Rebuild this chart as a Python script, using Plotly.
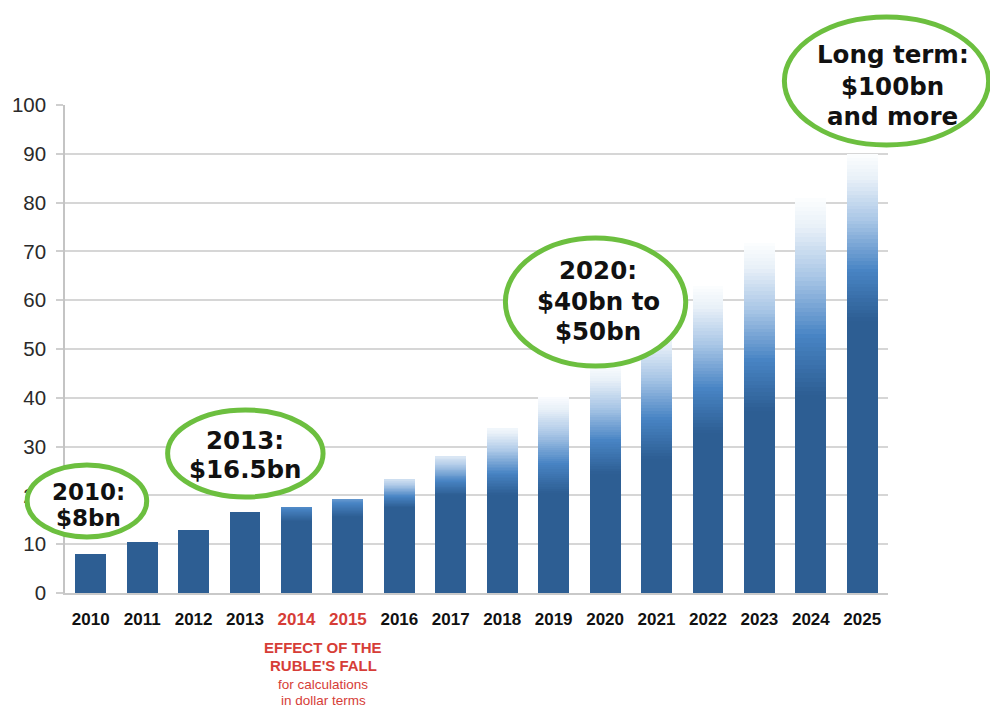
import plotly.graph_objects as go

# ---- data ----
years = ["2010", "2011", "2012", "2013", "2014", "2015", "2016", "2017",
         "2018", "2019", "2020", "2021", "2022", "2023", "2024", "2025"]
values = [7.9, 10.4, 12.9, 16.5, 17.6, 19.2, 23.2, 28.0, 33.8, 40.2,
          47.0, 55.0, 63.0, 71.8, 81.0, 90.0]
red_years = ["2014", "2015"]
y_ticks = [0, 10, 20, 30, 40, 50, 60, 70, 80, 90, 100]

callouts = [
    ["2010:", "$8bn"],
    ["2013:", "$16.5bn"],
    ["2020:", "$40bn to", "$50bn"],
    ["Long term:", "$100bn", "and more"],
]
note_lines = ["EFFECT OF THE", "RUBLE'S FALL", "for calculations", "in dollar terms"]

# ---- style (gradient look of the forecast bars) ----
solid_frac = [1, 1, 1, 1, 0.84, 0.82, 0.76, 0.72, 0.6, 0.51, 0.52, 0.5, 0.52, 0.52, 0.5, 0.62]
top_light = [0, 0, 0, 0, 0.33, 0.38, 0.75, 0.8, 0.92, 0.98, 1, 1, 1, 1, 1, 1]
N_SLICES = 45

stops = [(0.0, (45, 94, 147)), (0.3, (72, 132, 196)), (0.6, (169, 198, 230)),
         (0.85, (232, 240, 248)), (1.0, (253, 254, 255))]


def col(t):
    t = max(0.0, min(1.0, t))
    for (a, ca), (b, cb) in zip(stops[:-1], stops[1:]):
        if t <= b:
            u = (t - a) / (b - a) if b > a else 0
            c = [round(ca[k] + (cb[k] - ca[k]) * u) for k in range(3)]
            return "rgb(%d,%d,%d)" % tuple(c)
    return "rgb(253,254,255)"


DARK = col(0)
RED = "#d63d37"
GREEN = "#6cbf3f"

fig = go.Figure()
fig.add_trace(go.Bar(x=years, y=[v * s for v, s in zip(values, solid_frac)],
                     marker=dict(color=DARK, line=dict(width=0)), hoverinfo="skip"))
for k in range(N_SLICES):
    t = (k + 0.5) / N_SLICES
    fig.add_trace(go.Bar(
        x=years,
        y=[v * (1 - s) / N_SLICES for v, s in zip(values, solid_frac)],
        marker=dict(color=[col(t * L) for L in top_light], line=dict(width=0)),
        hoverinfo="skip"))

ticktext = [("<span style='color:%s'>%s</span>" % (RED, y)) if y in red_years else y for y in years]

# ---- layout geometry ----
L, R, T, B = 62, 102, 105, 114
W, H = 990, 707
PW, PH = W - L - R, H - T - B


def fx(px):
    return (px - L) / PW


def fy(py):
    return (H - B - py) / PH


ellipses = [(24, 144, 465, 537), (165, 321, 410, 497), (504, 685, 238, 366), (784, 989, 17, 145)]
for x0, x1, y0, y1 in ellipses:
    fig.add_shape(type="circle", xref="paper", yref="paper",
                  x0=fx(x0), x1=fx(x1), y0=fy(y1), y1=fy(y0),
                  line=dict(color=GREEN, width=5), fillcolor="white", layer="above")

callout_pos = [
    (86, [492, 518], 23),
    (243, [440, 469], 24.5),
    (597, [270, 301, 331], 24.5),
    (893, [55, 86, 116], 24.5),
]
for lines, (cx, ys, fs) in zip(callouts, callout_pos):
    for txt, py in zip(lines, ys):
        fig.add_annotation(xref="paper", yref="paper", x=fx(cx), y=fy(py),
                           text="<b>%s</b>" % txt, showarrow=False,
                           xanchor="center", yanchor="middle",
                           font=dict(family="DejaVu Sans", size=fs, color="#111111"))

note_pos = [(647, 15, True), (665, 15, True), (685, 13.5, False), (700, 13.5, False)]
for txt, (py, fs, bold) in zip(note_lines, note_pos):
    fig.add_annotation(xref="paper", yref="paper", x=fx(321), y=fy(py),
                       text=("<b>%s</b>" % txt) if bold else txt, showarrow=False,
                       xanchor="center", yanchor="middle", borderpad=0,
                       font=dict(family="Liberation Sans", size=fs, color=RED))

fig.update_layout(
    width=W, height=H, autosize=False,
    margin=dict(l=L, r=R, t=T, b=B, pad=0),
    paper_bgcolor="white", plot_bgcolor="white",
    barmode="stack", bargap=0.4, showlegend=False,
    xaxis=dict(type="category", range=[-0.5, 15.5], tickvals=years, ticktext=ticktext,
               showgrid=False, showline=True, linecolor="#c9c9c9", linewidth=1.5,
               ticks="", ticklabelstandoff=10,
               tickfont=dict(family="Liberation Sans", size=17, color="#111111", weight="bold")),
    yaxis=dict(range=[0, 100], tickvals=y_ticks, showgrid=True, gridcolor="#d6d6d6", gridwidth=1.5,
               zeroline=False, showline=True, linecolor="#c4c4c4", linewidth=1.5,
               ticks="outside", ticklen=7, tickcolor="#cfcfcf", tickwidth=1.5,
               ticklabelstandoff=6,
               tickfont=dict(family="Liberation Sans", size=20.5, color="#2a2a2a")),
)

fig.write_html("out.html")
